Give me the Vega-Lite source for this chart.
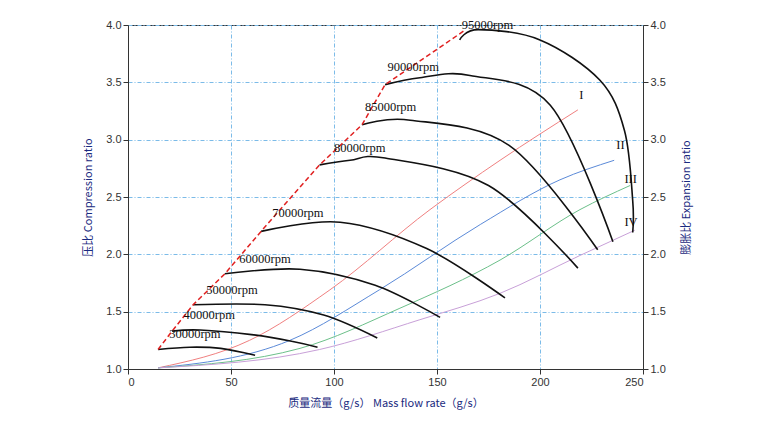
{
  "$schema": "https://vega.github.io/schema/vega-lite/v6.json",
  "width": 515,
  "height": 344,
  "autosize": "none",
  "padding": {"left": 128, "top": 25, "right": 125, "bottom": 55},
  "config": {
    "view": {"stroke": "#333", "strokeWidth": 1},
    "axis": {"labelFont": "Liberation Sans", "labelFontSize": 11, "labelColor": "#333", "domainColor": "#333", "tickColor": "#333", "titleFont": "Noto Sans CJK SC", "titleFontSize": 11, "titleFontWeight": "normal"}
  },
  "datasets": {
    "speed": [
      {"s": "30000", "o": 1, "x": 14.6, "y": 1.17}, {"s": "30000", "o": 2, "x": 30, "y": 1.19}, {"s": "30000", "o": 3, "x": 45, "y": 1.18}, {"s": "30000", "o": 4, "x": 61.7, "y": 1.12},
      {"s": "40000", "o": 1, "x": 21.4, "y": 1.33}, {"s": "40000", "o": 2, "x": 35, "y": 1.34}, {"s": "40000", "o": 3, "x": 60, "y": 1.3}, {"s": "40000", "o": 4, "x": 80, "y": 1.24}, {"s": "40000", "o": 5, "x": 92, "y": 1.19},
      {"s": "50000", "o": 1, "x": 31.6, "y": 1.56}, {"s": "50000", "o": 2, "x": 66.5, "y": 1.56}, {"s": "50000", "o": 3, "x": 95, "y": 1.47}, {"s": "50000", "o": 4, "x": 121, "y": 1.27},
      {"s": "60000", "o": 1, "x": 47, "y": 1.83}, {"s": "60000", "o": 2, "x": 83.5, "y": 1.87}, {"s": "60000", "o": 3, "x": 120, "y": 1.73}, {"s": "60000", "o": 4, "x": 151.5, "y": 1.45},
      {"s": "70000", "o": 1, "x": 64.6, "y": 2.2}, {"s": "70000", "o": 2, "x": 103, "y": 2.28}, {"s": "70000", "o": 3, "x": 145, "y": 2.05}, {"s": "70000", "o": 4, "x": 183, "y": 1.62},
      {"s": "80000", "o": 1, "x": 93, "y": 2.78}, {"s": "80000", "o": 2, "x": 107.8, "y": 2.82}, {"s": "80000", "o": 3, "x": 124.8, "y": 2.84}, {"s": "80000", "o": 4, "x": 175, "y": 2.6}, {"s": "80000", "o": 5, "x": 218.4, "y": 1.88},
      {"s": "85000", "o": 1, "x": 113.6, "y": 3.13}, {"s": "85000", "o": 2, "x": 137, "y": 3.17}, {"s": "85000", "o": 3, "x": 185, "y": 2.95}, {"s": "85000", "o": 4, "x": 228, "y": 2.04},
      {"s": "90000", "o": 1, "x": 124.8, "y": 3.48}, {"s": "90000", "o": 2, "x": 141.7, "y": 3.54}, {"s": "90000", "o": 3, "x": 166, "y": 3.56}, {"s": "90000", "o": 4, "x": 205, "y": 3.3}, {"s": "90000", "o": 5, "x": 235.4, "y": 2.11},
      {"s": "95000", "o": 1, "x": 161, "y": 3.87}, {"s": "95000", "o": 2, "x": 170, "y": 3.96}, {"s": "95000", "o": 3, "x": 200, "y": 3.87}, {"s": "95000", "o": 4, "x": 229, "y": 3.52}, {"s": "95000", "o": 5, "x": 241, "y": 3.08}, {"s": "95000", "o": 6, "x": 245, "y": 2.47}, {"s": "95000", "o": 7, "x": 245, "y": 2.19}
    ],
    "surge": [
      {"x": 14.6, "y": 1.17}, {"x": 21.4, "y": 1.33}, {"x": 31.6, "y": 1.56}, {"x": 47, "y": 1.83}, {"x": 64.6, "y": 2.2}, {"x": 93, "y": 2.78}, {"x": 113.6, "y": 3.13}, {"x": 124.8, "y": 3.48}, {"x": 164, "y": 3.96}
    ],
    "turbine": [
      {"t": "I", "x": 14.6, "y": 1.01}, {"t": "I", "x": 59, "y": 1.25}, {"t": "I", "x": 98, "y": 1.69}, {"t": "I", "x": 146.6, "y": 2.39}, {"t": "I", "x": 180.6, "y": 2.82}, {"t": "I", "x": 218.4, "y": 3.26},
      {"t": "II", "x": 14.6, "y": 1.01}, {"t": "II", "x": 78.6, "y": 1.25}, {"t": "II", "x": 122, "y": 1.69}, {"t": "II", "x": 171, "y": 2.26}, {"t": "II", "x": 209.7, "y": 2.65}, {"t": "II", "x": 236, "y": 2.82},
      {"t": "III", "x": 14.6, "y": 1.01}, {"t": "III", "x": 83.5, "y": 1.18}, {"t": "III", "x": 132, "y": 1.53}, {"t": "III", "x": 180.6, "y": 1.95}, {"t": "III", "x": 219.4, "y": 2.39}, {"t": "III", "x": 243.7, "y": 2.6},
      {"t": "IV", "x": 14.6, "y": 1.01}, {"t": "IV", "x": 93, "y": 1.17}, {"t": "IV", "x": 141.7, "y": 1.43}, {"t": "IV", "x": 180.6, "y": 1.66}, {"t": "IV", "x": 219.4, "y": 1.99}, {"t": "IV", "x": 246, "y": 2.21}
    ],
    "labels": [
      {"x": 20, "y": 1.24, "text": "30000rpm"}, {"x": 27, "y": 1.41, "text": "40000rpm"}, {"x": 38, "y": 1.63, "text": "50000rpm"}, {"x": 54, "y": 1.9, "text": "60000rpm"},
      {"x": 70, "y": 2.3, "text": "70000rpm"}, {"x": 100, "y": 2.87, "text": "80000rpm"}, {"x": 115, "y": 3.22, "text": "85000rpm"}, {"x": 126, "y": 3.57, "text": "90000rpm"}, {"x": 162, "y": 3.94, "text": "95000rpm"},
      {"x": 219, "y": 3.33, "text": "I"}, {"x": 237, "y": 2.89, "text": "II"}, {"x": 241, "y": 2.6, "text": "III"}, {"x": 241, "y": 2.22, "text": "IV"}
    ]
  },
  "layer": [
    {
      "encoding": {
        "x": {"field": "x", "type": "quantitative", "scale": {"domain": [0, 250], "nice": false},
          "axis": {"values": [0, 50, 100, 150, 200, 250], "grid": true, "gridColor": "#7bbbe8", "gridDash": [4, 2, 1, 2], "title": "质量流量（g/s）    Mass flow rate（g/s）", "titleColor": "#1a2a80", "titlePadding": 10}},
        "y": {"field": "y", "type": "quantitative", "scale": {"domain": [1, 4], "nice": false},
          "axis": {"values": [1, 1.5, 2, 2.5, 3, 3.5, 4], "format": ".1f", "grid": true, "gridColor": "#7bbbe8", "gridDash": [4, 2, 1, 2], "title": "压比    Compression ratio", "titleColor": "#1a2a80", "titlePadding": 12}}
      },
      "layer": [
        {
          "data": {"name": "turbine"},
          "mark": {"type": "line", "strokeWidth": 1, "interpolate": "monotone"},
          "encoding": {
            "color": {"field": "t", "type": "nominal", "scale": {"domain": ["I", "II", "III", "IV"], "range": ["#f08080", "#5b8ad8", "#6cc08a", "#c8a0d8"]}, "legend": null}
          }
        },
        {
          "data": {"name": "speed"},
          "mark": {"type": "line", "color": "#111", "strokeWidth": 1.6, "interpolate": "cardinal"},
          "encoding": {"detail": {"field": "s"}, "order": {"field": "o"}}
        },
        {
          "data": {"name": "surge"},
          "mark": {"type": "line", "color": "#e02020", "strokeWidth": 1.5, "strokeDash": [5, 3]},
          "encoding": {}
        },
        {
          "data": {"name": "labels"},
          "mark": {"type": "text", "align": "left", "baseline": "bottom", "font": "Liberation Serif", "fontSize": 12.5, "color": "#111"},
          "encoding": {"text": {"field": "text"}}
        }
      ]
    },
    {
      "data": {"name": "surge"},
      "mark": {"type": "point", "opacity": 0},
      "encoding": {
        "x": {"field": "x", "type": "quantitative"},
        "y": {"field": "y", "type": "quantitative", "scale": {"domain": [1, 4], "nice": false},
          "axis": {"orient": "right", "values": [1, 1.5, 2, 2.5, 3, 3.5, 4], "format": ".1f", "title": "膨胀比    Expansion ratio", "titleAngle": 270, "titleColor": "#1a2a80", "titlePadding": 26}}
      }
    }
  ],
  "resolve": {"scale": {"y": "independent"}}
}
